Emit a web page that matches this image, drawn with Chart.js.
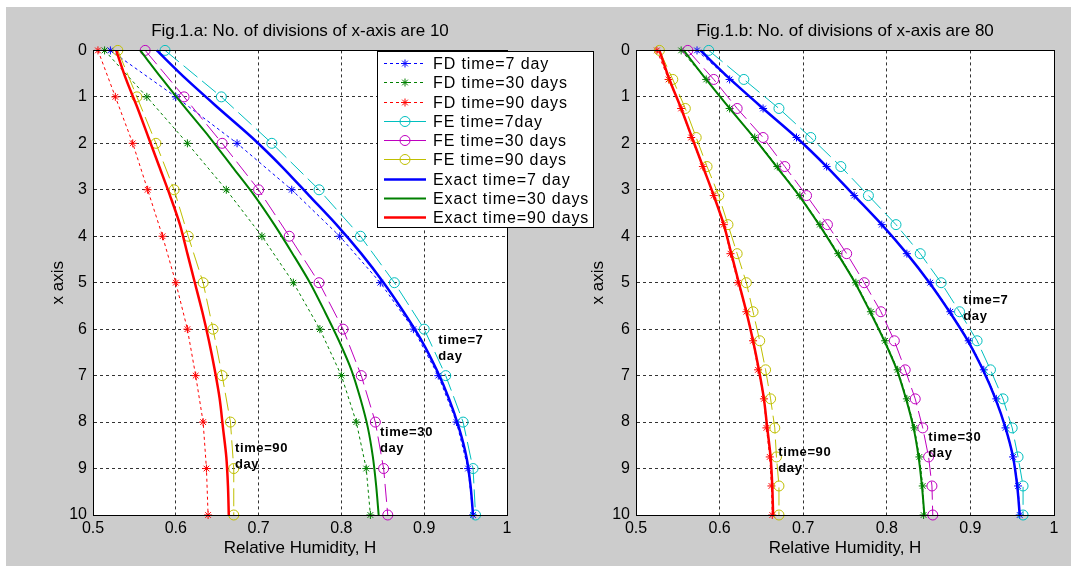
<!DOCTYPE html>
<html>
<head>
<meta charset="utf-8">
<script src="https://cdn.jsdelivr.net/npm/chart.js@4.4.1/dist/chart.umd.min.js"></script>
<style>
  html, body { margin: 0; padding: 0; background: #fff; width: 1071px; height: 574px; overflow: hidden; }
  #bg { position: absolute; left: 6px; top: 7px; width: 1065px; height: 559px; background: #cccccc; }
  #left { position: absolute; left: 0; top: 0; }
  #right { position: absolute; left: 580px; top: 0; }
</style>
</head>
<body>
<div id="bg"></div>
<canvas id="left" width="600" height="574"></canvas>
<canvas id="right" width="491" height="574"></canvas>
<script>
const FONT = '"Liberation Sans", Arial, Helvetica, sans-serif';

// positions along the bar (y axis, reversed)
const positions10 = [0, 1, 2, 3, 4, 5, 6, 7, 8, 9, 10];
const positions80 = [0, 0.625, 1.25, 1.875, 2.5, 3.125, 3.75, 4.375, 5, 5.625, 6.25, 6.875, 7.5, 8.125, 8.75, 9.375, 10];

const xTickLabels = ['0.5', '0.6', '0.7', '0.8', '0.9', '1'];
const yTickLabels = ['0', '1', '2', '3', '4', '5', '6', '7', '8', '9', '10'];

const seriesLabels = ['FD time=7 day', 'FD time=30 days', 'FD time=90 days',
  'FE time=7day', 'FE time=30 days', 'FE time=90 days',
  'Exact time=7 day', 'Exact time=30 days', 'Exact time=90 days'];

// Fig.1.a  (10 divisions)
const fd7A  = [0.521, 0.600, 0.674, 0.740, 0.798, 0.847, 0.887, 0.917, 0.939, 0.953, 0.959];
const fd30A = [0.514, 0.565, 0.614, 0.661, 0.704, 0.742, 0.774, 0.800, 0.818, 0.830, 0.835];
const fd90A = [0.506, 0.527, 0.548, 0.566, 0.584, 0.600, 0.614, 0.624, 0.633, 0.637, 0.639];
const fe7A  = [0.587, 0.655, 0.716, 0.773, 0.823, 0.864, 0.900, 0.926, 0.947, 0.959, 0.962];
const fe30A = [0.563, 0.610, 0.656, 0.700, 0.737, 0.773, 0.802, 0.824, 0.841, 0.851, 0.856];
const fe90A = [0.530, 0.553, 0.576, 0.598, 0.615, 0.633, 0.645, 0.656, 0.666, 0.670, 0.670];

// Fig.1.b  (80 divisions, every 5th node marked)
const fd7B  = [0.573, 0.612, 0.652, 0.692, 0.728, 0.761, 0.794, 0.824, 0.852, 0.876, 0.898, 0.916, 0.931, 0.942, 0.951, 0.957, 0.959];
const fd30B = [0.554, 0.584, 0.612, 0.642, 0.669, 0.696, 0.720, 0.742, 0.763, 0.781, 0.798, 0.813, 0.824, 0.833, 0.839, 0.843, 0.844];
const fd90B = [0.525, 0.539, 0.554, 0.566, 0.580, 0.593, 0.605, 0.613, 0.622, 0.632, 0.640, 0.646, 0.653, 0.656, 0.660, 0.662, 0.663];
const fe7B  = [0.587, 0.629, 0.671, 0.709, 0.745, 0.778, 0.811, 0.840, 0.865, 0.887, 0.908, 0.924, 0.939, 0.950, 0.957, 0.963, 0.963];
const fe30B = [0.562, 0.593, 0.621, 0.652, 0.678, 0.704, 0.729, 0.752, 0.773, 0.793, 0.809, 0.822, 0.834, 0.843, 0.850, 0.854, 0.855];
const fe90B = [0.528, 0.544, 0.559, 0.572, 0.585, 0.599, 0.610, 0.621, 0.632, 0.640, 0.648, 0.655, 0.661, 0.666, 0.668, 0.671, 0.671];

// exact solution (same in both figures)
const exact7  = [0.577, 0.613, 0.652, 0.692, 0.728, 0.761, 0.794, 0.824, 0.851, 0.875, 0.897, 0.915, 0.930, 0.942, 0.951, 0.956, 0.959];
const exact30 = [0.557, 0.584, 0.612, 0.641, 0.668, 0.695, 0.719, 0.741, 0.762, 0.780, 0.797, 0.812, 0.823, 0.832, 0.838, 0.842, 0.845];
const exact90 = [0.528, 0.540, 0.554, 0.567, 0.580, 0.593, 0.605, 0.614, 0.623, 0.632, 0.640, 0.647, 0.653, 0.657, 0.661, 0.663, 0.664];

// text labels beside the curves (data coordinates)
const notesA = [
  { x: 0.917, y: 6.24, lines: ['time=7', 'day'] },
  { x: 0.8466, y: 8.22, lines: ['time=30', 'day'] },
  { x: 0.6715, y: 8.57, lines: ['time=90', 'day'] }
];
const notesB = [
  { x: 0.8915, y: 5.38, lines: ['time=7', 'day'] },
  { x: 0.8496, y: 8.34, lines: ['time=30', 'day'] },
  { x: 0.6702, y: 8.65, lines: ['time=90', 'day'] }
];

const BLUE = '#0000ff', GREEN = '#008000', RED = '#ff0000';
const CYAN = '#00bfbf', MAGENTA = '#bf00bf', YELLOW = '#bfbf00';

function pts(pos, vals) {
  return pos.map((p, i) => ({ x: vals[i], y: p }));
}

function buildDatasets(pos, fd, fe) {
  const fdCol = [BLUE, GREEN, RED];
  const feCol = [CYAN, MAGENTA, YELLOW];
  const exCol = [BLUE, GREEN, RED];
  const exW = [2.5, 2, 2.5];
  const exact = [exact7, exact30, exact90];
  const out = [];
  fd.forEach((v, i) => out.push({
    label: seriesLabels[i], data: pts(pos, v), showLine: true,
    borderColor: fdCol[i], borderWidth: 1, borderDash: [3, 3], legendDash: [3, 3],
    pointStyle: 'star', pointRadius: 4, pointBorderWidth: 1,
    pointBackgroundColor: 'rgba(0,0,0,0)', order: 2, clip: false
  }));
  fe.forEach((v, i) => out.push({
    label: seriesLabels[3 + i], data: pts(pos, v), showLine: true,
    borderColor: feCol[i], borderWidth: 1, borderDash: [18, 6], legendDash: [],
    pointStyle: 'circle', pointRadius: 5, pointBorderWidth: 1,
    pointBackgroundColor: 'rgba(0,0,0,0)', order: 1, clip: false
  }));
  exact.forEach((v, i) => out.push({
    label: seriesLabels[6 + i], data: pts(positions80, v), showLine: true,
    borderColor: exCol[i], borderWidth: exW[i], legendDash: [],
    pointRadius: 0, tension: 0.3, order: 0, clip: false
  }));
  return out;
}

const framePlugin = {
  id: 'frame',
  beforeDraw(chart) {
    const a = chart.chartArea, ctx = chart.ctx;
    ctx.save();
    ctx.fillStyle = '#fff';
    ctx.fillRect(a.left, a.top, a.right - a.left, a.bottom - a.top);
    ctx.restore();
  },
  afterDatasetsDraw(chart) {
    const a = chart.chartArea, ctx = chart.ctx;
    ctx.save();
    ctx.strokeStyle = '#000';
    ctx.lineWidth = 1;
    const l = Math.round(a.left) + 0.5, t = Math.round(a.top) + 0.5;
    ctx.strokeRect(l, t, Math.round(a.right) - Math.round(a.left), Math.round(a.bottom) - Math.round(a.top));
    ctx.restore();
  }
};

const notesPlugin = {
  id: 'notes',
  afterDatasetsDraw(chart, args, opts) {
    const items = opts.items || [];
    const ctx = chart.ctx, xs = chart.scales.x, ys = chart.scales.y;
    ctx.save();
    ctx.font = 'bold 13px ' + FONT;
    ctx.letterSpacing = '0.6px';
    ctx.fillStyle = '#000';
    ctx.textAlign = 'left';
    ctx.textBaseline = 'middle';
    items.forEach(n => {
      const px = xs.getPixelForValue(n.x), py = ys.getPixelForValue(n.y);
      n.lines.forEach((s, k) => ctx.fillText(s, px, py + k * 16));
    });
    ctx.restore();
  }
};

const boxLegend = {
  id: 'boxLegend',
  afterDraw(chart, args, opts) {
    if (!opts.show) return;
    const ctx = chart.ctx, a = chart.chartArea;
    const x0 = a.right - 130, y0 = a.top + 1, w = 216, h = 176, rowH = 19.25;
    ctx.save();
    ctx.fillStyle = '#fff';
    ctx.fillRect(x0, y0, w, h);
    ctx.strokeStyle = '#000';
    ctx.lineWidth = 1;
    ctx.strokeRect(Math.round(x0) + 0.5, Math.round(y0) + 0.5, w, h);
    chart.data.datasets.forEach((ds, i) => {
      const cy = Math.round(y0 + 11.7 + i * rowH) + 0.5;
      ctx.strokeStyle = ds.borderColor;
      ctx.lineWidth = ds.borderWidth;
      ctx.setLineDash(ds.legendDash || []);
      ctx.beginPath();
      ctx.moveTo(x0 + 7, cy);
      ctx.lineTo(x0 + 49, cy);
      ctx.stroke();
      ctx.setLineDash([]);
      if (ds.pointRadius > 0 && Chart.helpers && Chart.helpers.drawPoint) {
        ctx.lineWidth = 1;
        ctx.fillStyle = 'rgba(0,0,0,0)';
        Chart.helpers.drawPoint(ctx, { pointStyle: ds.pointStyle, radius: ds.pointRadius, borderWidth: 1, rotation: 0 }, x0 + 28, cy);
      }
      ctx.fillStyle = '#000';
      ctx.font = '16px ' + FONT;
      ctx.letterSpacing = '0.9px';
      ctx.textAlign = 'left';
      ctx.textBaseline = 'middle';
      ctx.fillText(ds.label, x0 + 56, cy + 1);
      ctx.letterSpacing = '0px';
    });
    ctx.restore();
  }
};

function makeScales(yWidth, yTitlePad) {
  return {
    x: {
      type: 'linear', min: 0.5, max: 1,
      ticks: {
        stepSize: 0.1, padding: 4, color: '#000', autoSkip: false, maxRotation: 0,
        font: { size: 16, family: FONT },
        callback: v => xTickLabels[Math.round((v - 0.5) * 10)]
      },
      grid: { color: '#333', drawTicks: false, lineWidth: 1 },
      border: { display: true, color: '#000', dash: [3, 3] },
      title: { display: true, text: 'Relative Humidity, H', color: '#000', font: { size: 17, family: FONT }, padding: { top: 0, bottom: 15 } },
      afterFit: s => { s.height = 59; }
    },
    y: {
      type: 'linear', min: 0, max: 10, reverse: true,
      ticks: {
        stepSize: 1, padding: 6, color: '#000', autoSkip: false,
        font: { size: 16, family: FONT },
        callback: v => yTickLabels[Math.round(v)]
      },
      grid: { color: '#333', drawTicks: false, lineWidth: 1 },
      border: { display: true, color: '#000', dash: [3, 3] },
      title: { display: true, text: 'x axis', color: '#000', font: { size: 17, family: FONT }, padding: { top: yTitlePad, bottom: 0 } },
      afterFit: s => { s.width = yWidth; }
    }
  };
}

function makeChart(id, title, datasets, notes, yWidth, yTitlePad, padRight, showLegend) {
  return new Chart(document.getElementById(id), {
    type: 'scatter',
    data: { datasets },
    options: {
      responsive: false,
      animation: false,
      layout: { padding: { left: 0, right: padRight, top: 0, bottom: 0 } },
      scales: makeScales(yWidth, yTitlePad),
      plugins: {
        legend: { display: false },
        tooltip: { enabled: false },
        title: {
          display: true, text: title, color: '#000', fullSize: false,
          font: { size: 17, weight: 'normal', family: FONT },
          padding: { top: 21, bottom: 9 }
        },
        notes: { items: notes },
        boxLegend: { show: showLegend }
      }
    },
    plugins: [framePlugin, notesPlugin, boxLegend]
  });
}

makeChart('left', 'Fig.1.a: No. of divisions of x-axis are 10',
  buildDatasets(positions10, [fd7A, fd30A, fd90A], [fe7A, fe30A, fe90A]),
  notesA, 93, 48, 93, true);

makeChart('right', 'Fig.1.b: No. of divisions of x-axis are 80',
  buildDatasets(positions80, [fd7B, fd30B, fd90B], [fe7B, fe30B, fe90B]),
  notesB, 56, 8, 17, false);
</script>
</body>
</html>
